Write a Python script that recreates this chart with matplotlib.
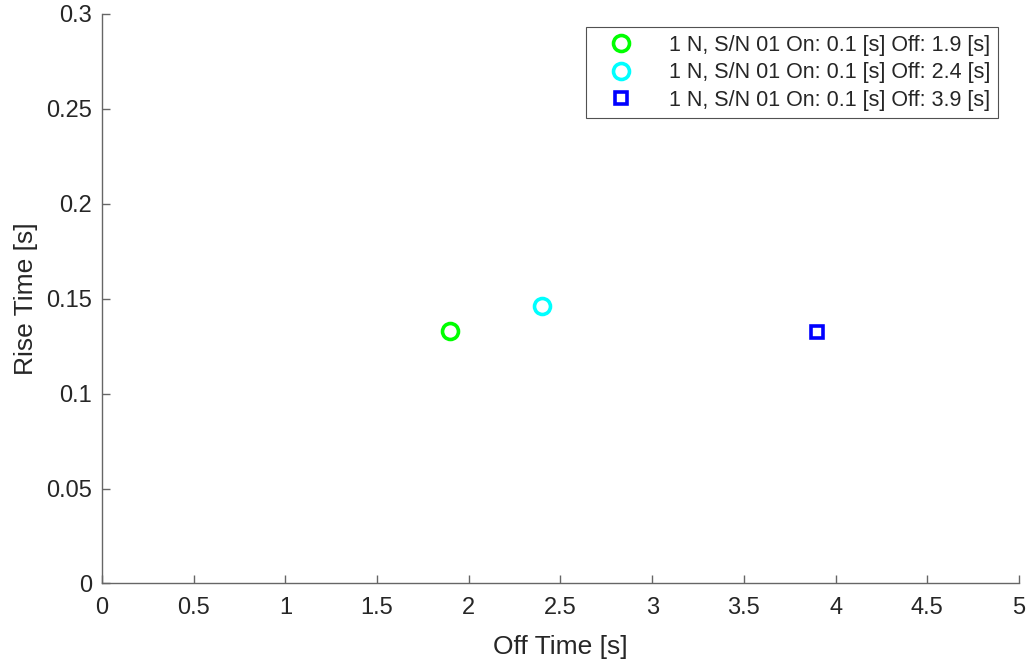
import matplotlib
matplotlib.use("Agg")
from matplotlib import pyplot as plt

plt.rcParams['font.family'] = ['Liberation Sans', 'DejaVu Sans']

# data
off_time = [1.9, 2.4, 3.9]
rise_time = [0.133, 0.146, 0.1325]
labels = [
    "1 N, S/N 01 On: 0.1 [s] Off: 1.9 [s]",
    "1 N, S/N 01 On: 0.1 [s] Off: 2.4 [s]",
    "1 N, S/N 01 On: 0.1 [s] Off: 3.9 [s]",
]
colors = ["#00ff00", "#00ffff", "#0000ff"]
markers = ["o", "o", "s"]
sizes = [11.5, 11.5, 8.6]

fig = plt.figure(figsize=(10.29, 6.62), dpi=100)
ax = fig.add_axes([0.0991, 0.1186, 0.8912, 0.8603])

for x, y, c, m, s, lab in zip(off_time, rise_time, colors, markers, sizes, labels):
    ax.plot([x], [y], linestyle="none", marker=m, markersize=s,
            markerfacecolor="none", markeredgecolor=c, markeredgewidth=2.6,
            label=lab)

ax.set_xlim(0, 5)
ax.set_ylim(0, 0.3)
ax.set_xticks([0, 0.5, 1, 1.5, 2, 2.5, 3, 3.5, 4, 4.5, 5])
ax.set_xticklabels(["0", "0.5", "1", "1.5", "2", "2.5", "3", "3.5", "4", "4.5", "5"])
ax.set_yticks([0, 0.05, 0.1, 0.15, 0.2, 0.25, 0.3])
ax.set_yticklabels(["0", "0.05", "0.1", "0.15", "0.2", "0.25", "0.3"])

for side in ["top", "right"]:
    ax.spines[side].set_visible(False)
for side in ["left", "bottom"]:
    ax.spines[side].set_color("#666666")
    ax.spines[side].set_linewidth(1.0)
ax.tick_params(direction="in", length=6, width=1.0, color="#666666",
               labelcolor="#262626", labelsize=17)
ax.tick_params(axis="x", pad=10)
ax.tick_params(axis="y", pad=7)

ax.set_xlabel("Off Time [s]", fontsize=19, color="#262626", labelpad=11)
ax.set_ylabel("Rise Time [s]", fontsize=19, color="#262626", labelpad=6)

leg = ax.legend(loc="upper right", bbox_to_anchor=(0.977, 0.977), fontsize=15.5,
                frameon=True, fancybox=False, borderpad=0.35, labelspacing=0.3,
                handletextpad=1.0, borderaxespad=0, handlelength=2.5)
leg.get_frame().set_edgecolor("#262626")
leg.get_frame().set_linewidth(0.8)
for t in leg.get_texts():
    t.set_color("#262626")

fig.savefig("out.png", dpi=100)
